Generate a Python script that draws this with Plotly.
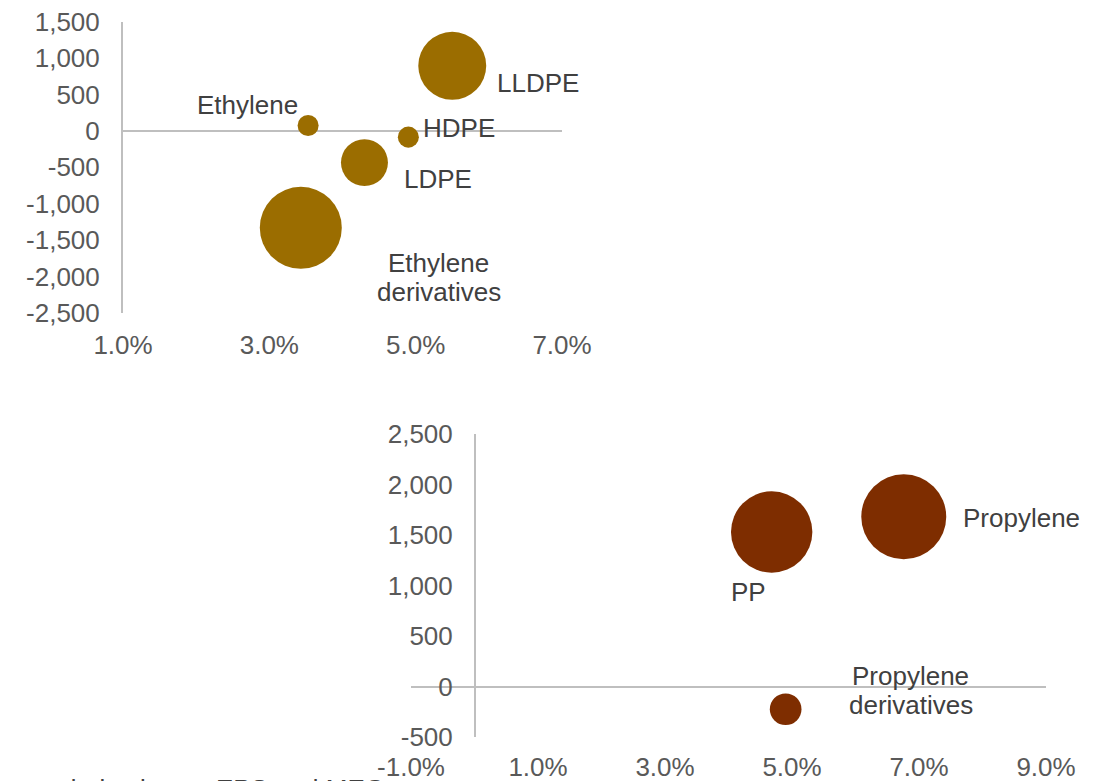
import plotly.graph_objects as go

W, H = 1106, 781

# ---------------- data ----------------
eth_names = ["Ethylene", "LLDPE", "HDPE", "LDPE", "Ethylene<br>derivatives"]
eth_growth = [3.53, 5.50, 4.90, 4.30, 3.43]          # x, %
eth_balance = [75, 895, -85, -435, -1330]             # y
eth_size = [0.44, 4.6, 0.44, 2.2, 6.7]                # bubble value

pro_names = ["Propylene", "PP", "Propylene<br>derivatives"]
pro_growth = [6.76, 4.68, 4.90]
pro_balance = [1680, 1530, -225]
pro_size = [7.2, 6.6, 1.0]

top_xticks = [1, 3, 5, 7]
top_yticks = [-2500, -2000, -1500, -1000, -500, 0, 500, 1000, 1500]
bot_xticks = [-1, 1, 3, 5, 7, 9]
bot_yticks = [-500, 0, 500, 1000, 1500, 2000, 2500]

footnote = "derivatives = EPS and MEG"

# ---------------- styles ----------------
FONT = "Liberation Sans, Arial, sans-serif"
TICK_COLOR = "#595959"
LABEL_COLOR = "#404040"
LINE_COLOR = "#BFBFBF"
ETH_COLOR = "#9B6D00"
PRO_COLOR = "#7E2D00"
FS = 26
LINE_H = 29  # px between label lines

# label offsets in pixels (dx right, dy up) -- centre of label block
eth_offsets = [(-61, 20), (86, -17), (51, 9), (74, -16), (138, -50)]
pro_offsets = [(118, -1), (-23, -60), (125, 19)]


def px_x(p):
    return p / W


def px_y(p):
    return 1 - p / H


def sizeref(vals, dmax):
    return 2.0 * max(vals) / (dmax ** 2)


fig = go.Figure()

fig.add_trace(go.Scatter(
    x=eth_growth, y=eth_balance, mode="markers",
    marker=dict(size=eth_size, sizemode="area", sizeref=sizeref(eth_size, 82),
                color=ETH_COLOR, opacity=1, line=dict(width=0)),
    xaxis="x", yaxis="y", hoverinfo="skip", showlegend=False))

fig.add_trace(go.Scatter(
    x=pro_growth, y=pro_balance, mode="markers",
    marker=dict(size=pro_size, sizemode="area", sizeref=sizeref(pro_size, 85),
                color=PRO_COLOR, opacity=1, line=dict(width=0)),
    xaxis="x2", yaxis="y2", hoverinfo="skip", showlegend=False))

annotations = []


def add_labels(names, xs, ys, offsets, xref, yref):
    for name, xv, yv, (dx, dy) in zip(names, xs, ys, offsets):
        lines = name.split("<br>")
        n = len(lines)
        for i, line in enumerate(lines):
            shift = dy + ((n - 1) / 2 - i) * LINE_H
            annotations.append(dict(x=xv, y=yv, xref=xref, yref=yref, text=line,
                                    showarrow=False, xshift=dx, yshift=shift,
                                    font=dict(family=FONT, size=FS, color=LABEL_COLOR)))


add_labels(eth_names, eth_growth, eth_balance, eth_offsets, "x", "y")
add_labels(pro_names, pro_growth, pro_balance, pro_offsets, "x2", "y2")

annotations.append(dict(x=px_x(60), y=px_y(772), xref="paper", yref="paper", xanchor="left",
                        yanchor="top", text=footnote, showarrow=False,
                        font=dict(family=FONT, size=FS, color=LABEL_COLOR)))

tickfont = dict(family=FONT, size=FS, color=TICK_COLOR)

fig.update_layout(
    width=W, height=H,
    margin=dict(l=0, r=0, t=0, b=0, autoexpand=False),
    paper_bgcolor="white", plot_bgcolor="white",
    font=dict(family=FONT, size=FS, color=TICK_COLOR),
    annotations=annotations,
    xaxis=dict(domain=[px_x(123), px_x(562)], range=[1, 7], anchor="y",
               tickvals=top_xticks, ticktext=[f"{v:.1f}%" for v in top_xticks],
               showgrid=False, zeroline=False, showline=False, ticks="",
               tickfont=tickfont, ticklabelstandoff=14, automargin=False),
    yaxis=dict(domain=[px_y(313), px_y(21.7)], range=[-2500, 1500], anchor="x",
               tickvals=top_yticks, ticktext=[f"{v:,}" for v in top_yticks],
               showgrid=False, zeroline=True, zerolinecolor=LINE_COLOR, zerolinewidth=2,
               showline=True, linecolor=LINE_COLOR, linewidth=2, ticks="",
               tickfont=tickfont, ticklabelstandoff=16, automargin=False),
    xaxis2=dict(domain=[px_x(411), px_x(1046)], range=[-1, 9], anchor="y2",
                tickvals=bot_xticks, ticktext=[f"{v:.1f}%" for v in bot_xticks],
                showgrid=False, zeroline=False, showline=False, ticks="",
                tickfont=tickfont, ticklabelstandoff=12, automargin=False),
    yaxis2=dict(domain=[px_y(737), px_y(434)], range=[-500, 2500], anchor="free",
                position=px_x(475),
                tickvals=bot_yticks, ticktext=[f"{v:,}" for v in bot_yticks],
                showgrid=False, zeroline=True, zerolinecolor=LINE_COLOR, zerolinewidth=2,
                showline=True, linecolor=LINE_COLOR, linewidth=2, ticks="",
                tickfont=tickfont, ticklabelstandoff=16, automargin=False),
)

fig.write_html("out.html", config={"displayModeBar": False},
               post_script="document.body.style.margin='0';document.body.style.overflow='hidden';")
